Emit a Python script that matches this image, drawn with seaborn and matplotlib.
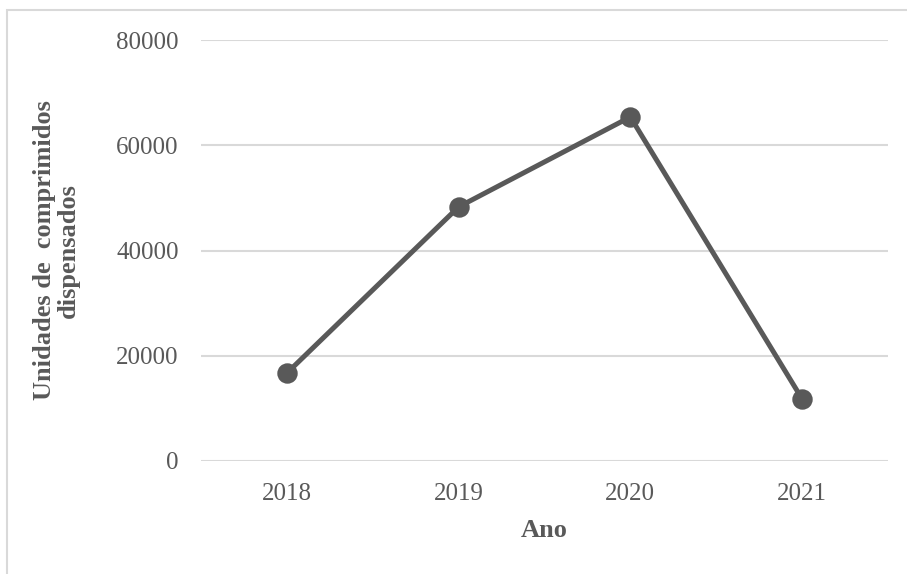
import pandas as pd
import numpy as np
import matplotlib.pyplot as plt
import seaborn as sns
from matplotlib.patches import Rectangle

# data
anos = ["2018", "2019", "2020", "2021"]
unidades = [16700, 48300, 65400, 11800]
y_ticks = [0, 20000, 40000, 60000, 80000]

df = pd.DataFrame({"Ano": anos, "Unidades": unidades})

sns.set_theme(style="white")
plt.rcParams['font.family'] = ['Liberation Serif', 'DejaVu Serif']

fig = plt.figure(figsize=(9.07, 5.74), dpi=100)
ax = fig.add_axes([0.2216, 0.197, 0.7574, 0.733])

# light frame around the whole chart
fig.patches.append(Rectangle((0.008, -0.01), 1.02, 0.993, transform=fig.transFigure,
                             fill=False, edgecolor="#d9d9d9", linewidth=1.5))

ax.yaxis.grid(True, color="#d9d9d9", linewidth=1.5)
ax.set_axisbelow(True)

sns.pointplot(data=df, x="Ano", y="Unidades", color="#595959", errorbar=None,
              markers="o", markersize=12, linewidth=3.6, ax=ax)

ax.set_xlim(-0.5, 3.5)
ax.set_ylim(0, 80000)
ax.set_yticks(y_ticks)
ax.set_yticklabels([str(v) for v in y_ticks])
ax.tick_params(axis="both", length=0, labelsize=18, labelcolor="#595959")
ax.tick_params(axis="y", pad=16)
ax.tick_params(axis="x", pad=16)

for s in ["top", "right", "left", "bottom"]:
    ax.spines[s].set_visible(False)

ax.set_xlabel("Ano", fontsize=19, fontweight="bold", color="#595959", labelpad=10)
ax.set_ylabel("Unidades de  comprimidos\ndispensados", fontsize=19, fontweight="bold",
              color="#595959", linespacing=1.05)
ax.yaxis.set_label_coords(-0.176, 0.5)

fig.savefig("out.png", dpi=100, facecolor="white")
